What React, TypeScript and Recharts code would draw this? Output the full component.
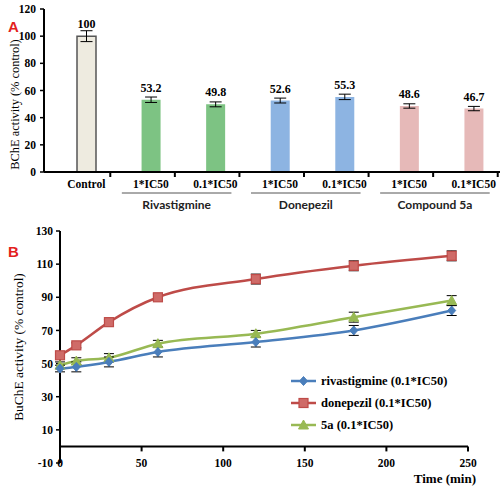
import React from 'react';
import {
  BarChart, Bar, XAxis, YAxis, Cell, ErrorBar, LabelList,
  LineChart, Line, ReferenceLine, Legend, Label,
} from 'recharts';

// ---------- Panel A data ----------
const doseLabels = ['Control', '1*IC50', '0.1*IC50', '1*IC50', '0.1*IC50', '1*IC50', '0.1*IC50'];
const groupNames = ['', 'Rivastigmine', 'Rivastigmine', 'Donepezil', 'Donepezil', 'Compound 5a', 'Compound 5a'];
const bcheValues = [100, 53.2, 49.8, 52.6, 55.3, 48.6, 46.7];
const bcheErrors = [4, 2, 1.8, 1.8, 2, 1.6, 1.6];
const barColors = ['#EEEBE0', '#7DC383', '#7DC383', '#8DB4E2', '#8DB4E2', '#E6B9B8', '#E6B9B8'];
const bcheTicks = [0, 20, 40, 60, 80, 100, 120];

// ---------- Panel B data ----------
const times = [0, 10, 30, 60, 120, 180, 240];
const rivaValues = [47, 48, 51, 57, 63, 70, 82];
const rivaErrors = [2, 3, 3, 3, 3, 3, 3];
const donepValues = [55, 61, 75, 90, 101, 109, 115];
const donepErrors = [1.5, 1.5, 1.5, 2, 3, 3, 3];
const fiveaValues = [49, 51.5, 53.5, 62, 68, 78, 88];
const fiveaErrors = [2, 2, 2.5, 2, 2, 3, 3];
const buTicksY = [-10, 10, 30, 50, 70, 90, 110, 130];
const buTicksX = [0, 50, 100, 150, 200, 250];

const SERIF = 'Liberation Serif, Times New Roman, serif';
const SANS = 'Lato, Open Sans, sans-serif';

const barData = doseLabels.map((d, i) => ({
  key: i,
  dose: d,
  group: groupNames[i],
  value: bcheValues[i],
  err: bcheErrors[i],
}));

const lineData = times.map((t, i) => ({
  t,
  riva: rivaValues[i],
  rivaErr: rivaErrors[i],
  donep: donepValues[i],
  donepErr: donepErrors[i],
  fivea: fiveaValues[i],
  fiveaErr: fiveaErrors[i],
}));

const COLORS = { riva: '#4A7EBB', donep: '#BE4B48', fivea: '#98B954' };

const serifBold = { fontFamily: SERIF, fontWeight: 700 } as const;

function BarTick(props: any) {
  const { x, y, payload } = props;
  const i = Number(payload.value);
  const half = payload.offset && payload.offset > 5 ? payload.offset : 32.3;
  const dose = doseLabels[i];
  const group = groupNames[i];
  const firstOfGroup = group && groupNames[i + 1] === group;
  const lineStart = x - 29;
  const lineEnd = x + 2 * half + 16;
  return (
    <g>
      <line x1={x + 24} x2={x + 24} y1={y} y2={y + 5} stroke="#000" strokeWidth={2} />
      <text x={x} y={y + 16} textAnchor="middle" style={{ ...serifBold, fontSize: 11.5 }} fill="#000">
        {dose}
      </text>
      {firstOfGroup ? (
        <g>
          <line x1={lineStart} x2={lineEnd} y1={y + 21} y2={y + 21} stroke="#555" strokeWidth={1} />
          <text x={(lineStart + lineEnd) / 2} y={y + 37} textAnchor="middle" style={{ fontFamily: SANS, fontWeight: 700, fontSize: 12 }} fill="#222">
            {group}
          </text>
        </g>
      ) : null}
    </g>
  );
}

function LineTick(props: any) {
  const { x, y, payload } = props;
  return (
    <text x={x} y={y + 4} textAnchor="middle" style={{ ...serifBold, fontSize: 11.5 }} fill="#000">
      {payload.value}
    </text>
  );
}

function Diamond({ cx, cy, color }: any) {
  return <path d={`M${cx},${cy - 4.5}L${cx + 4},${cy}L${cx},${cy + 4.5}L${cx - 4},${cy}Z`} fill={color} stroke={color} />;
}
function Square({ cx, cy, color }: any) {
  return <rect x={cx - 4.5} y={cy - 4.5} width={9} height={9} fill="#CF6B68" stroke={color} strokeWidth={1.2} />;
}
function Triangle({ cx, cy, color }: any) {
  return <path d={`M${cx},${cy - 5}L${cx + 5},${cy + 4}L${cx - 5},${cy + 4}Z`} fill={color} stroke={color} />;
}

const markerFor: Record<string, any> = { riva: Diamond, donep: Square, fivea: Triangle };

function makeDot(key: string) {
  const M = markerFor[key];
  return (p: any) => <M key={`${key}-${p.index}`} cx={p.cx} cy={p.cy} color={COLORS[key as keyof typeof COLORS]} />;
}

function LegendContent(props: any) {
  const { payload } = props;
  return (
    <div>
      {(payload || []).map((entry: any) => {
        const key = String(entry.dataKey);
        const M = markerFor[key];
        const color = COLORS[key as keyof typeof COLORS];
        return (
          <div key={key} style={{ display: 'flex', alignItems: 'center', height: 22 }}>
            <svg width={27} height={12} style={{ marginRight: 3 }}>
              <line x1={0} x2={25} y1={6} y2={6} stroke={color} strokeWidth={2.5} />
              <M cx={12.5} cy={6} color={color} />
            </svg>
            <span style={{ fontFamily: SERIF, fontWeight: 700, fontSize: 12.5, color: '#000', whiteSpace: 'nowrap' }}>
              {entry.value}
            </span>
          </div>
        );
      })}
    </div>
  );
}

const tickStyle = { fontFamily: SERIF, fontWeight: 700, fontSize: 11.5, fill: '#000' };

export default function App() {
  return (
    <div style={{ position: 'absolute', left: 0, top: 0, width: 500, height: 493, overflow: 'hidden', background: '#fff' }}>
      <div style={{ position: 'absolute', left: 8, top: 19, fontFamily: 'Liberation Sans, Arial, sans-serif', fontWeight: 700, fontSize: 15, color: '#E3211C', lineHeight: '15px' }}>
        A
      </div>
      <div style={{ position: 'absolute', left: 8, top: 244, fontFamily: 'Liberation Sans, Arial, sans-serif', fontWeight: 700, fontSize: 15, color: '#E3211C', lineHeight: '15px' }}>
        B
      </div>

      <div style={{ position: 'absolute', left: 0, top: 0 }}>
        <BarChart width={506} height={215} data={barData} margin={{ top: 9, right: 0, left: 0, bottom: 0 }} barCategoryGap={0}>
          <YAxis
            width={44}
            domain={[0, 120]}
            ticks={bcheTicks}
            axisLine={{ stroke: '#000', strokeWidth: 2 }}
            tickLine={{ stroke: '#000', strokeWidth: 1.5 }}
            tickSize={4}
            tickMargin={4}
            tick={tickStyle}
          >
            <Label
              content={({ viewBox }: any) => (
                <text
                  transform={`translate(${viewBox.x + 15},${viewBox.y + viewBox.height / 2 + 14}) rotate(-90)`}
                  textAnchor="middle"
                  dominantBaseline="central"
                  style={{ fontFamily: SERIF, fontSize: 12.4 }}
                  fill="#000"
                >
                  BChE activity (% control)
                </text>
              )}
            />
          </YAxis>
          <XAxis
            dataKey="key"
            height={43}
            padding={{ left: 10, right: 0 }}
            axisLine={{ stroke: '#000', strokeWidth: 2 }}
            tickLine={false}
            tickSize={0}
            tickMargin={0}
            interval={0}
            tick={<BarTick />}
          />
          <Bar dataKey="value" barSize={19} isAnimationActive={false}>
            {barData.map((d, i) => (
              <Cell key={d.key} fill={barColors[i]} stroke={i === 0 ? '#555' : 'none'} strokeWidth={i === 0 ? 1.5 : 0} />
            ))}
            <ErrorBar dataKey="err" width={6} stroke="#000" strokeWidth={1} direction="y" />
            <LabelList dataKey="value" position="top" offset={8} style={{ fontFamily: SERIF, fontWeight: 700, fontSize: 12 }} fill="#000" />
          </Bar>
        </BarChart>
      </div>

      <div style={{ position: 'absolute', left: 0, top: 215 }}>
        <LineChart width={500} height={278} data={lineData} margin={{ top: 16, right: 32, left: 0, bottom: 0 }}>
          <YAxis
            width={60}
            domain={[-10, 130]}
            ticks={buTicksY}
            interval={0}
            axisLine={{ stroke: '#000', strokeWidth: 2 }}
            tickLine={{ stroke: '#000', strokeWidth: 1.5 }}
            tickSize={4}
            tickMargin={3}
            tick={tickStyle}
          >
            <Label
              content={({ viewBox }: any) => (
                <text
                  transform={`translate(${viewBox.x + 18},${viewBox.y + viewBox.height / 2}) rotate(-90)`}
                  textAnchor="middle"
                  dominantBaseline="central"
                  style={{ fontFamily: SERIF, fontSize: 13.4 }}
                  fill="#000"
                >
                  BuChE activity (% control)
                </text>
              )}
            />
          </YAxis>
          <XAxis
            dataKey="t"
            type="number"
            domain={[0, 250]}
            ticks={buTicksX}
            interval={0}
            height={30}
            axisLine={false}
            tickLine={false}
            tickSize={0}
            tickMargin={0}
            tick={<LineTick />}
          >
            <Label
              content={({ viewBox }: any) => (
                <text x={viewBox.x + viewBox.width + 8} y={viewBox.y + 20} textAnchor="end" style={{ ...serifBold, fontSize: 13 }} fill="#000">
                  Time (min)
                </text>
              )}
            />
          </XAxis>
          <ReferenceLine y={0} stroke="#000" strokeWidth={2} />
          {buTicksX.slice(1).map((t) => (
            <ReferenceLine key={t} segment={[{ x: t, y: 0 }, { x: t, y: -3 }]} stroke="#000" strokeWidth={2} />
          ))}
          <Line type="monotone" dataKey="fivea" name="5a (0.1*IC50)" stroke={COLORS.fivea} strokeWidth={2.5} dot={makeDot('fivea')} isAnimationActive={false}>
            <ErrorBar dataKey="fiveaErr" width={5} stroke="#000" strokeWidth={1} direction="y" />
          </Line>
          <Line type="monotone" dataKey="riva" name="rivastigmine (0.1*IC50)" stroke={COLORS.riva} strokeWidth={2.5} dot={makeDot('riva')} isAnimationActive={false}>
            <ErrorBar dataKey="rivaErr" width={5} stroke="#000" strokeWidth={1} direction="y" />
          </Line>
          <Line type="monotone" dataKey="donep" name="donepezil (0.1*IC50)" stroke={COLORS.donep} strokeWidth={2.5} dot={makeDot('donep')} isAnimationActive={false}>
            <ErrorBar dataKey="donepErr" width={5} stroke="#000" strokeWidth={1} direction="y" />
          </Line>
          <Legend
            layout="vertical"
            align="center"
            verticalAlign="middle"
            itemSorter={(item: any) => ['riva', 'donep', 'fivea'].indexOf(String(item.dataKey))}
            content={<LegendContent />}
            wrapperStyle={{ position: 'absolute', left: 291, top: 155, width: 205, bottom: 'auto', right: 'auto' }}
          />
        </LineChart>
      </div>
    </div>
  );
}
